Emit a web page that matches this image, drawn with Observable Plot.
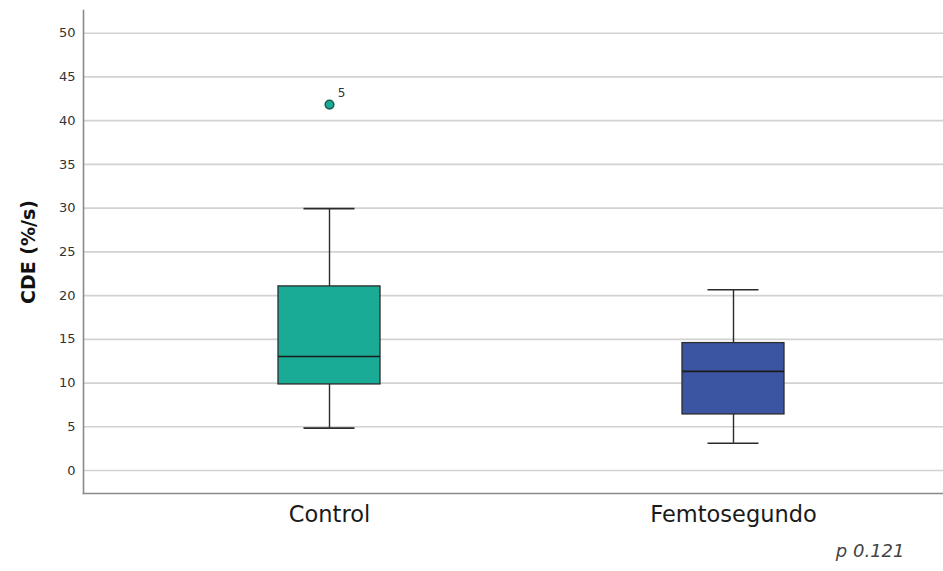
<!DOCTYPE html>
<html>
<head>
<meta charset="utf-8">
<script src="https://cdn.jsdelivr.net/npm/d3@7"></script>
<script src="https://cdn.jsdelivr.net/npm/@observablehq/plot@0.6"></script>
<style>
  html, body { margin: 0; padding: 0; background: #fff; }
  #chart svg { display: block; }
</style>
</head>
<body>
<div id="chart"></div>
<script>
// ---- data ----
const categories   = ["Control", "Femtosegundo"];
const whiskerLow   = [4.84, 3.12];
const q1           = [9.84, 6.41];
const median       = [13.04, 11.33];
const q3           = [21.05, 14.57];
const whiskerHigh  = [29.94, 20.67];
const boxColors    = ["#1aab96", "#3b55a3"];

const outlierCategory = ["Control"];
const outlierValue    = [41.84];
const outlierLabel    = ["5"];

const yTicks  = [0, 5, 10, 15, 20, 25, 30, 35, 40, 45, 50];
const yLabel  = "CDE (%/s)";
const pText   = "p 0.121";

// ---- tables built from the arrays ----
const boxes = categories.map((c, i) => ({
  cat: c, lo: whiskerLow[i], q1: q1[i], med: median[i], q3: q3[i], hi: whiskerHigh[i], color: boxColors[i]
}));
const outliers = outlierCategory.map((c, i) => ({cat: c, v: outlierValue[i], label: outlierLabel[i]}));

const font = "'DejaVu Sans', 'Open Sans', sans-serif";

const plot = Plot.plot({
  width: 943,
  height: 571,
  marginTop: 10,
  marginLeft: 83,
  marginRight: 0,
  marginBottom: 78,
  style: {fontFamily: font, background: "#fff"},
  x: {type: "band", domain: categories, range: [127, 935], padding: 0, round: false, axis: null},
  y: {domain: [-2.63, 52.6], axis: null},
  marks: [
    Plot.ruleY(yTicks, {stroke: "#d2d2d2", strokeWidth: 1.7}),
    Plot.frame({anchor: "left", stroke: "#8a8a8a", strokeWidth: 1.6}),
    Plot.frame({anchor: "bottom", stroke: "#8a8a8a", strokeWidth: 1.6}),
    Plot.axisY(yTicks, {tickSize: 0, tickPadding: 8, fontSize: 13, color: "#333", label: null}),
    Plot.axisX({tickSize: 0, tickPadding: 13, fontSize: 22.5, color: "#1a1a1a", label: null}),
    // whiskers
    Plot.ruleX(boxes, {x: "cat", y1: "lo", y2: "q1", stroke: "#2b2b2b", strokeWidth: 1.4}),
    Plot.ruleX(boxes, {x: "cat", y1: "q3", y2: "hi", stroke: "#2b2b2b", strokeWidth: 1.4}),
    Plot.tickY(boxes, {x: "cat", y: "lo", stroke: "#2b2b2b", strokeWidth: 1.6, insetLeft: 176.5, insetRight: 176.5}),
    Plot.tickY(boxes, {x: "cat", y: "hi", stroke: "#2b2b2b", strokeWidth: 1.6, insetLeft: 176.5, insetRight: 176.5}),
    // boxes
    Plot.barY(boxes, {x: "cat", y1: "q1", y2: "q3", fill: "color", stroke: "#2b2b2b", strokeWidth: 1.3, insetLeft: 151, insetRight: 151}),
    Plot.tickY(boxes, {x: "cat", y: "med", stroke: "#1b1b1b", strokeWidth: 1.6, insetLeft: 151, insetRight: 151}),
    // outlier
    Plot.dot(outliers, {x: "cat", y: "v", r: 4.3, fill: "#1aab96", stroke: "#1c5f55", strokeWidth: 1.6}),
    Plot.text(outliers, {x: "cat", y: "v", text: "label", dx: 12, dy: -11, fontSize: 12, fill: "#333"}),
    // y label
    Plot.text([yLabel], {frameAnchor: "left", rotate: -90, dx: -55, textAnchor: "middle", fontSize: 19, fontWeight: "bold", fill: "#111"}),
    // p value
    Plot.text([pText], {frameAnchor: "bottom-right", dx: -39, dy: 63, textAnchor: "end", fontSize: 18, fontStyle: "italic", fill: "#444"})
  ]
});
document.getElementById("chart").appendChild(plot);
</script>
</body>
</html>
